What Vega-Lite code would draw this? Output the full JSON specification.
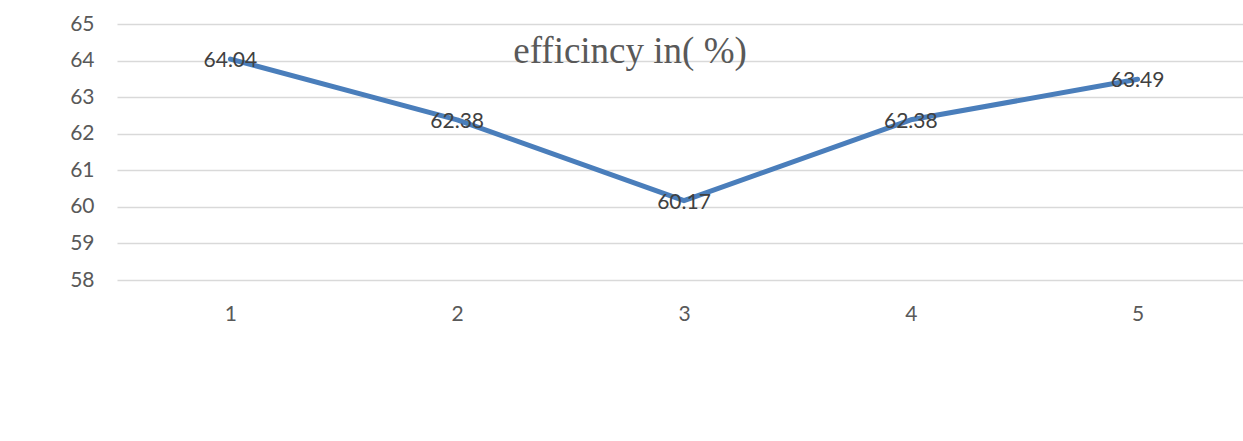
{
  "$schema": "https://vega.github.io/schema/vega-lite/v6.json",
  "autosize": {"type": "none"},
  "padding": {"left": 117, "top": 24, "right": 0, "bottom": 161},
  "width": 1134,
  "height": 256,
  "background": "white",
  "title": {
    "text": "efficincy in( %)",
    "font": "Liberation Serif",
    "fontSize": 37,
    "fontWeight": "normal",
    "color": "#595959",
    "anchor": "middle",
    "frame": "group",
    "orient": "top",
    "offset": 0,
    "baseline": "alphabetic",
    "dx": -54,
    "dy": 87
  },
  "data": {
    "values": [
      {"trial": "1", "efficiency": 64.04},
      {"trial": "2", "efficiency": 62.38},
      {"trial": "3", "efficiency": 60.17},
      {"trial": "4", "efficiency": 62.38},
      {"trial": "5", "efficiency": 63.49}
    ]
  },
  "encoding": {
    "x": {
      "field": "trial",
      "type": "ordinal",
      "scale": {"type": "point", "padding": 0.5},
      "axis": {
        "title": null,
        "labelAngle": 0,
        "labelFont": "Lato",
        "labelFontSize": 21,
        "labelColor": "#595959",
        "labelPadding": 23,
        "ticks": false,
        "tickSize": 0,
        "domain": false,
        "grid": false
      }
    },
    "y": {
      "field": "efficiency",
      "type": "quantitative",
      "scale": {"domain": [58, 65], "zero": false, "nice": false},
      "axis": {
        "title": null,
        "values": [58, 59, 60, 61, 62, 63, 64, 65],
        "labelFont": "Lato",
        "labelFontSize": 21,
        "labelColor": "#595959",
        "labelPadding": 23,
        "ticks": false,
        "tickSize": 0,
        "domain": false,
        "grid": true,
        "gridColor": "#d9d9d9",
        "gridWidth": 1.5
      }
    }
  },
  "layer": [
    {
      "mark": {"type": "line", "color": "#4A7EBB", "strokeWidth": 5, "strokeCap": "round", "strokeJoin": "round"}
    },
    {
      "mark": {"type": "text", "font": "Lato", "fontSize": 21, "color": "#404040", "align": "center", "baseline": "middle", "dy": 2},
      "encoding": {"text": {"field": "efficiency", "type": "quantitative", "format": ".2f"}}
    }
  ],
  "config": {"view": {"stroke": null}}
}
